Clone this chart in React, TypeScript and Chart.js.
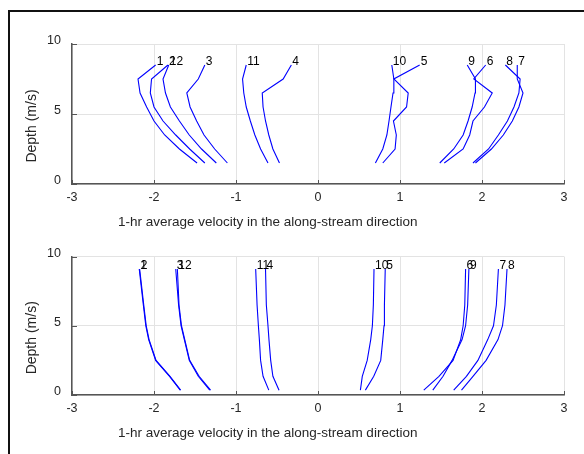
import React, { useEffect, useRef } from "react";
import { Chart, registerables } from "chart.js";

Chart.register(...registerables);

// ---------- data ----------
const profileLabels = ["1", "2", "3", "4", "5", "6", "7", "8", "9", "10", "11", "12"];
const xTitle = "1-hr average velocity in the along-stream direction";
const yTitle = "Depth (m/s)";

// upper panel: depth levels (m) and velocity profiles
const topDepth = [1.5, 2.5, 3.5, 4.5, 5.5, 6.5, 7.5, 8.5];
const top1 = [-1.475, -1.69, -1.87, -2.0, -2.09, -2.17, -2.195, -1.98];
const top2 = [-1.38, -1.565, -1.735, -1.89, -2.0, -2.045, -2.03, -1.83];
const top3 = [-1.105, -1.26, -1.39, -1.48, -1.56, -1.6, -1.46, -1.38];
const top4 = [-0.47, -0.55, -0.6, -0.64, -0.67, -0.68, -0.425, -0.325];
const top5 = [0.79, 0.94, 0.955, 0.92, 1.08, 1.1, 0.925, 1.24];
const top6 = [1.54, 1.77, 1.85, 1.89, 2.03, 2.125, 1.9, 2.045];
const top7 = [1.92, 2.115, 2.26, 2.37, 2.45, 2.5, 2.43, 2.43];
const top8 = [1.89, 2.08, 2.2, 2.31, 2.39, 2.45, 2.465, 2.285];
const top9 = [1.485, 1.655, 1.77, 1.83, 1.88, 1.915, 1.92, 1.82];
const top10 = [0.7, 0.79, 0.84, 0.866, 0.89, 0.915, 0.925, 0.9];
const top11 = [-0.61, -0.7, -0.77, -0.825, -0.875, -0.905, -0.92, -0.875];
const top12 = [-1.24, -1.42, -1.57, -1.69, -1.8, -1.86, -1.89, -1.82];
const topSeries = [top1, top2, top3, top4, top5, top6, top7, top8, top9, top10, top11, top12];

// lower panel
const bottomDepth = [0.35, 1.35, 2.5, 4, 5, 6.5, 9.1];
const bottom1 = [-1.68, -1.81, -1.98, -2.065, -2.1, -2.13, -2.18];
const bottom2 = [-1.675, -1.805, -1.975, -2.06, -2.095, -2.125, -2.175];
const bottom3 = [-1.32, -1.46, -1.57, -1.63, -1.67, -1.7, -1.735];
const bottom4 = [-0.475, -0.55, -0.577, -0.598, -0.61, -0.63, -0.64];
const bottom5 = [0.578, 0.68, 0.765, 0.79, 0.805, 0.81, 0.82];
const bottom6 = [1.29, 1.475, 1.647, 1.74, 1.77, 1.79, 1.8];
const bottom7 = [1.655, 1.81, 1.95, 2.07, 2.14, 2.175, 2.2];
const bottom8 = [1.75, 1.89, 2.05, 2.195, 2.25, 2.28, 2.305];
const bottom9 = [1.4, 1.525, 1.635, 1.757, 1.8, 1.825, 1.84];
const bottom10 = [0.517, 0.54, 0.6, 0.643, 0.663, 0.675, 0.683];
const bottom11 = [-0.6, -0.67, -0.7, -0.715, -0.727, -0.743, -0.76];
const bottom12 = [-1.31, -1.45, -1.565, -1.625, -1.665, -1.695, -1.715];
const bottomSeries = [
  bottom1, bottom2, bottom3, bottom4, bottom5, bottom6,
  bottom7, bottom8, bottom9, bottom10, bottom11, bottom12,
];

// ---------- style ----------
const FONT = "'Liberation Sans', Arial, Helvetica, sans-serif";
const TEXT = "#262626";
const AXIS = "#555555";

const decorPlugin = {
  id: "decor",
  afterDatasetsDraw(chart: any) {
    const { ctx } = chart;
    // end-of-profile labels
    ctx.save();
    ctx.font = `12px ${FONT}`;
    ctx.fillStyle = "#000";
    ctx.textAlign = "left";
    ctx.textBaseline = "middle";
    chart.data.datasets.forEach((ds: any, i: number) => {
      const meta = chart.getDatasetMeta(i);
      const last = meta.data[meta.data.length - 1];
      if (last) ctx.fillText(ds.label, last.x + 1, last.y - 3);
    });
    ctx.restore();
  },
  afterDraw(chart: any) {
    const { ctx, chartArea, scales } = chart;
    ctx.save();
    // inward tick marks
    ctx.strokeStyle = AXIS;
    ctx.lineWidth = 1;
    scales.x.ticks.forEach((t: any) => {
      const px = Math.round(scales.x.getPixelForValue(t.value)) + 0.5;
      ctx.beginPath();
      ctx.moveTo(px, chartArea.bottom);
      ctx.lineTo(px, chartArea.bottom - 4);
      ctx.stroke();
    });
    scales.y.ticks.forEach((t: any) => {
      const py = Math.round(scales.y.getPixelForValue(t.value)) + 0.5;
      ctx.beginPath();
      ctx.moveTo(chartArea.left, py);
      ctx.lineTo(chartArea.left + 5, py);
      ctx.stroke();
    });
    // axis titles
    ctx.fillStyle = TEXT;
    ctx.font = `13.5px ${FONT}`;
    ctx.textAlign = "left";
    ctx.textBaseline = "middle";
    ctx.fillText(xTitle, chartArea.left + 46, chartArea.bottom + 38);
    ctx.translate(chartArea.left - 40, (chartArea.top + chartArea.bottom) / 2 + 12);
    ctx.rotate(-Math.PI / 2);
    ctx.textAlign = "center";
    ctx.font = `14px ${FONT}`;
    ctx.fillText(yTitle, 0, 0);
    ctx.restore();
  },
};

function makeChart(
  canvas: HTMLCanvasElement,
  depth: number[],
  series: number[][],
  padTop: number,
  xAxisHeight: number
) {
  return new Chart(canvas, {
    type: "scatter",
    data: {
      datasets: series.map((vals, i) => ({
        label: profileLabels[i],
        data: vals.map((v, j) => ({ x: v, y: depth[j] })),
        showLine: true,
        borderColor: "#0000ff",
        backgroundColor: "#0000ff",
        borderWidth: 1.1,
        pointRadius: 0,
        tension: 0,
        fill: false,
      })),
    },
    options: {
      animation: false,
      responsive: false,
      layout: { padding: { left: 0, right: 20, top: padTop, bottom: 0 } },
      plugins: { legend: { display: false }, tooltip: { enabled: false } },
      scales: {
        x: {
          type: "linear",
          min: -3,
          max: 3,
          afterFit: (s: any) => {
            s.height = xAxisHeight;
          },
          ticks: {
            stepSize: 1,
            padding: 6,
            color: TEXT,
            font: { family: FONT, size: 12.5 },
          },
          grid: { color: "#e3e3e3", lineWidth: 1, drawTicks: false },
          border: { display: true, color: AXIS, width: 1.5 },
        },
        y: {
          type: "linear",
          min: 0,
          max: 10,
          afterFit: (s: any) => {
            s.width = 72;
          },
          ticks: {
            stepSize: 5,
            padding: 11,
            labelOffset: -3,
            color: TEXT,
            font: { family: FONT, size: 12.5 },
          },
          grid: { color: "#e3e3e3", lineWidth: 1, drawTicks: false },
          border: { display: true, color: AXIS, width: 1.5 },
        },
      },
    },
    plugins: [decorPlugin],
  } as any);
}

export default function App() {
  const topRef = useRef<HTMLCanvasElement>(null);
  const bottomRef = useRef<HTMLCanvasElement>(null);

  useEffect(() => {
    const c1 = makeChart(topRef.current!, topDepth, topSeries, 44, 54);
    const c2 = makeChart(bottomRef.current!, bottomDepth, bottomSeries, 18, 59);
    return () => {
      c1.destroy();
      c2.destroy();
    };
  }, []);

  return (
    <div
      style={{
        position: "fixed",
        left: 0,
        top: 0,
        width: 584,
        height: 454,
        overflow: "hidden",
        background: "#fff",
      }}
    >
      <div
        style={{
          position: "absolute",
          left: 8,
          top: 10,
          width: 800,
          height: 800,
          border: "2px solid #111",
        }}
      />
      <canvas
        ref={topRef}
        width={584}
        height={238}
        style={{ position: "absolute", left: 0, top: 0, width: 584, height: 238 }}
      />
      <canvas
        ref={bottomRef}
        width={584}
        height={216}
        style={{ position: "absolute", left: 0, top: 238, width: 584, height: 216 }}
      />
    </div>
  );
}
